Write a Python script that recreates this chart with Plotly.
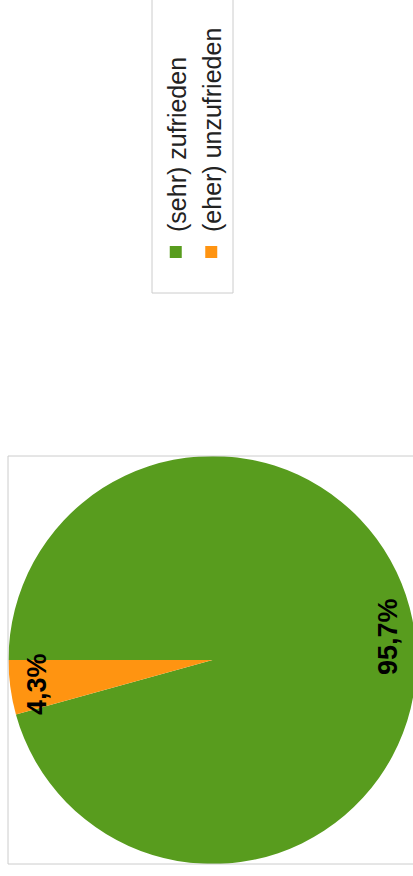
import math
import plotly.graph_objects as go

categories = ["(sehr) zufrieden", "(eher) unzufrieden"]
values = [95.7, 4.3]
colors = ["#589C1E", "#FF9411"]

W, H = 876, 417
ML, MR, MT, MB = 12, 456, 8, 0
PW, PH = W - ML - MR, H - MT - MB
R = min(PW, PH) / 2.0
LABEL_R = 0.87 * R


def px_to_paper_x(u):
    return (u - ML) / PW


def px_to_paper_y(v):
    return 1 - (v - MT) / PH


fig = go.Figure(
    go.Pie(
        labels=categories,
        values=values,
        marker=dict(colors=colors, line=dict(width=0)),
        sort=False,
        direction="clockwise",
        rotation=0,
        textinfo="none",
        hoverinfo="label+percent",
    )
)

# percentage labels placed along each slice's bisector (clockwise from 12 o'clock)
total = sum(values)
annotations = []
cum = 0.0
for v in values:
    frac = v / total
    mid = (cum + frac / 2) * 2 * math.pi
    cum += frac
    dx = LABEL_R * math.sin(mid)
    dy = LABEL_R * math.cos(mid)
    txt = f"{frac * 100:.1f}%".replace(".", ",")
    annotations.append(dict(
        x=0.5 + dx / PW, y=0.5 + dy / PH, xref="paper", yref="paper",
        text=txt, showarrow=False, xanchor="center", yanchor="middle",
        font=dict(family="Liberation Sans, Arial", size=27, color="black", weight="bold"),
    ))

fig.update_layout(
    width=W,
    height=H,
    separators=",.",
    margin=dict(l=ML, r=MR, t=MT, b=MB, autoexpand=False),
    paper_bgcolor="white",
    plot_bgcolor="white",
    font=dict(family="Liberation Sans, Arial", color="#222"),
    showlegend=True,
    legend=dict(
        xref="container", yref="container",
        x=604 / W, xanchor="left",
        y=1 - 153 / H, yanchor="top",
        borderwidth=0,
        bgcolor="rgba(0,0,0,0)",
        font=dict(family="Liberation Sans, Arial", size=25, color="#222"),
        itemwidth=30,
    ),
    annotations=annotations,
    shapes=[
        dict(type="rect", xref="paper", yref="paper", x0=0, x1=1, y0=0, y1=1,
             line=dict(color="#cccccc", width=1), layer="above"),
        # legend frame (continues past the right edge, as in the original)
        dict(type="rect", xref="paper", yref="paper",
             x0=px_to_paper_x(583), x1=px_to_paper_x(900),
             y0=px_to_paper_y(233), y1=px_to_paper_y(152),
             line=dict(color="#cccccc", width=1), fillcolor="rgba(0,0,0,0)", layer="below"),
    ],
)

post_script = """
var gd = document.getElementById('{plot_id}');
document.documentElement.style.overflow = 'hidden';
document.body.style.margin = '0';
document.body.style.overflow = 'hidden';
gd.style.position = 'absolute';
gd.style.left = '0px';
gd.style.top = '0px';
gd.style.transformOrigin = '0 0';
gd.style.transform = 'translate(0px, 876px) rotate(-90deg)';
"""

fig.write_html("out.html", post_script=post_script, config={"displayModeBar": False})
